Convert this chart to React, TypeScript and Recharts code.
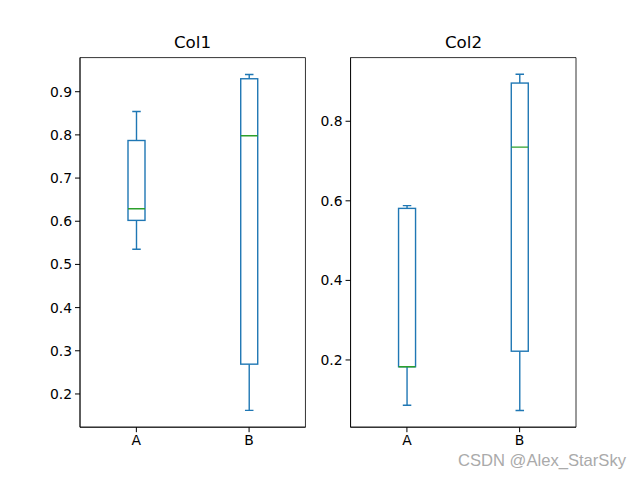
import React from 'react';
import { ComposedChart, Bar, XAxis, YAxis, ReferenceArea } from 'recharts';

const categories = ['A', 'B'];

// Col1 box stats, per category
const col1Min = [0.535, 0.162];
const col1Q1 = [0.602, 0.269];
const col1Median = [0.629, 0.798];
const col1Q3 = [0.787, 0.93];
const col1Max = [0.854, 0.94];

// Col2 box stats, per category
const col2Min = [0.086, 0.073];
const col2Q1 = [0.183, 0.222];
const col2Median = [0.183, 0.735];
const col2Q3 = [0.581, 0.896];
const col2Max = [0.588, 0.918];

const col1Ticks = [0.2, 0.3, 0.4, 0.5, 0.6, 0.7, 0.8, 0.9];
const col2Ticks = [0.2, 0.4, 0.6, 0.8];
const col1Domain = [0.123, 0.979];
const col2Domain = [0.031, 0.96];

const BLUE = '#1f77b4';
const GREEN = '#2ca02c';
const FONT = '"DejaVu Sans", sans-serif';

const buildRows = (mins: number[], q1s: number[], meds: number[], q3s: number[], maxs: number[]) =>
  categories.map((name, i) => ({
    name,
    range: [mins[i], maxs[i]],
    min: mins[i],
    q1: q1s[i],
    median: meds[i],
    q3: q3s[i],
    max: maxs[i],
  }));

const col1Rows = buildRows(col1Min, col1Q1, col1Median, col1Q3, col1Max);
const col2Rows = buildRows(col2Min, col2Q1, col2Median, col2Q3, col2Max);

const BoxShape = (props: any) => {
  const { x, y, width, height, payload } = props;
  if (!payload) return null;
  const top = Math.min(y, y + height);
  const bottom = Math.max(y, y + height);
  const lo = payload.min;
  const hi = payload.max;
  const toY = (v: number) => bottom - ((bottom - top) * (v - lo)) / (hi - lo);
  const cx = x + width / 2;
  const cap = width / 4;
  const yQ1 = toY(payload.q1);
  const yQ3 = toY(payload.q3);
  const yMed = toY(payload.median);
  return (
    <g fill="none" strokeWidth={1.4}>
      <line x1={cx} x2={cx} y1={bottom} y2={yQ1} stroke={BLUE} />
      <line x1={cx} x2={cx} y1={yQ3} y2={top} stroke={BLUE} />
      <line x1={cx - cap} x2={cx + cap} y1={bottom} y2={bottom} stroke={BLUE} />
      <line x1={cx - cap} x2={cx + cap} y1={top} y2={top} stroke={BLUE} />
      <rect x={x} y={yQ3} width={width} height={yQ1 - yQ3} stroke={BLUE} fill="none" />
      <line x1={x} x2={x + width} y1={yMed} y2={yMed} stroke={GREEN} />
    </g>
  );
};

const tickStyle = { fill: '#000', fontSize: 13.9, fontFamily: FONT };
const frameLine = { stroke: '#000', strokeWidth: 0.8 };

function Panel({ rows, ticks, domain, width, yWidth, right, left }: any) {
  return (
    <div style={{ position: 'absolute', left, top: 0 }}>
      <ComposedChart
        width={width}
        height={480}
        data={rows}
        margin={{ top: 57.6, right, bottom: 22.8, left: 0 }}
      >
        <XAxis
          dataKey="name"
          height={30}
          tick={tickStyle}
          tickSize={5}
          tickMargin={3}
          stroke="#000"
          axisLine={frameLine}
        />
        <YAxis
          type="number"
          domain={domain}
          ticks={ticks}
          width={yWidth}
          allowDataOverflow
          tick={tickStyle}
          tickSize={5}
          tickMargin={3}
          stroke="#000"
          tickFormatter={(v: number) => v.toFixed(1)}
          axisLine={frameLine}
        />
        {/* axes frame */}
        <ReferenceArea
          y1={domain[0]}
          y2={domain[1]}
          fill="none"
          stroke="#000"
          strokeWidth={0.8}
          ifOverflow="visible"
        />
        <Bar dataKey="range" barSize={17} shape={<BoxShape />} isAnimationActive={false} />
      </ComposedChart>
    </div>
  );
}

const titleStyle: React.CSSProperties = {
  position: 'absolute',
  top: 32,
  fontFamily: FONT,
  fontSize: 16.7,
  color: '#000',
  textAlign: 'center',
  width: 225,
};

export default function App() {
  return (
    <div
      style={{
        position: 'absolute',
        left: 0,
        top: 0,
        width: 640,
        height: 480,
        background: '#fff',
        overflow: 'hidden',
      }}
    >
      <div style={{ ...titleStyle, left: 80 }}>Col1</div>
      <div style={{ ...titleStyle, left: 351 }}>Col2</div>
      <Panel rows={col1Rows} ticks={col1Ticks} domain={col1Domain} width={320} yWidth={80} right={14.55} left={0} />
      <Panel rows={col2Rows} ticks={col2Ticks} domain={col2Domain} width={290} yWidth={50.55} right={14} left={300} />
      <div
        style={{
          position: 'absolute',
          right: 14,
          top: 451,
          fontFamily: '"Liberation Sans", Arial, sans-serif',
          fontSize: 16.6,
          color: '#aaa',
        }}
      >
        CSDN @Alex_StarSky
      </div>
    </div>
  );
}
